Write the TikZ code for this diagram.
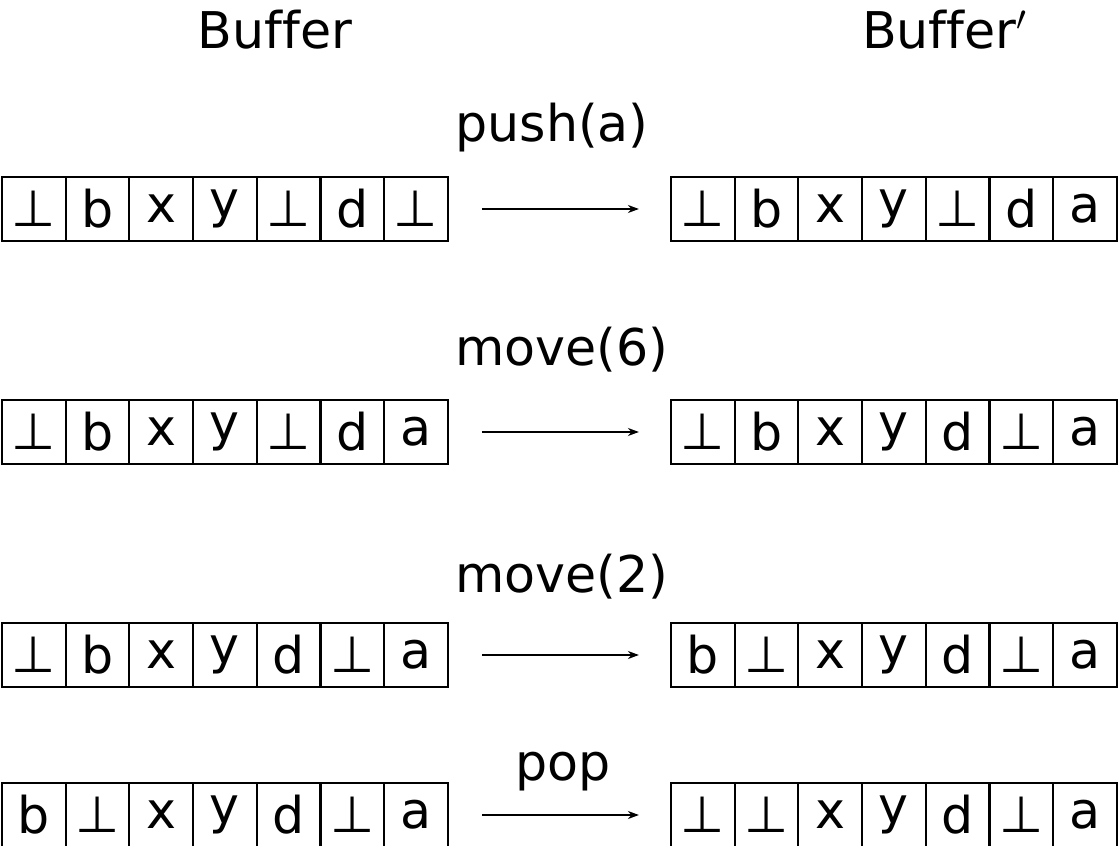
\documentclass[tikz,border=0pt]{standalone}
\usepackage{fontspec}
\setmainfont[Ligatures=NoCommon]{DejaVu Sans}
\usetikzlibrary{arrows.meta}
\newcommand{\bt}{⊥}

\begin{document}
\begin{tikzpicture}[x=0.01cm,y=-0.01cm,font=\fontsize{14.4}{17}\selectfont,cell/.style={draw,line width=0.6pt,minimum width=0.637cm,minimum height=0.64cm,inner sep=0pt},arrow/.style={-{Stealth[length=1.1mm,width=0.8mm]},line width=0.5pt,shorten <=0.33cm,shorten >=0.31cm}]
 \useasboundingbox (0,0) rectangle (1118,846);
 \node[anchor=base] (head) at (275,49) {Buffer};
 \node[anchor=base] (headp) at (945,49) {Buffer$'$};
 % push(a)
 \foreach \c [count=\i] in {\bt,b,x,y,\bt,d,\bt} \node[cell] (old1-\i) at ({33.85+63.7*(\i-1)},209) {\c};
 \foreach \c [count=\i] in {\bt,b,x,y,\bt,d,a} \node[cell] (new1-\i) at ({702.85+63.7*(\i-1)},209) {\c};
 \draw[arrow] (old1-7.east) -- (new1-1.west);
 \node[anchor=base] (op1) at (552,142) {push(a)};
 % move(6)
 \foreach \c [count=\i] in {\bt,b,x,y,\bt,d,a} \node[cell] (old2-\i) at ({33.85+63.7*(\i-1)},432) {\c};
 \foreach \c [count=\i] in {\bt,b,x,y,d,\bt,a} \node[cell] (new2-\i) at ({702.85+63.7*(\i-1)},432) {\c};
 \draw[arrow] (old2-7.east) -- (new2-1.west);
 \node[anchor=base] (op2) at (562,366) {move(6)};
 % move(2)
 \foreach \c [count=\i] in {\bt,b,x,y,d,\bt,a} \node[cell] (old3-\i) at ({33.85+63.7*(\i-1)},655) {\c};
 \foreach \c [count=\i] in {b,\bt,x,y,d,\bt,a} \node[cell] (new3-\i) at ({702.85+63.7*(\i-1)},655) {\c};
 \draw[arrow] (old3-7.east) -- (new3-1.west);
 \node[anchor=base] (op3) at (562,592) {move(2)};
 % pop
 \foreach \c [count=\i] in {b,\bt,x,y,d,\bt,a} \node[cell] (old4-\i) at ({33.85+63.7*(\i-1)},815) {\c};
 \foreach \c [count=\i] in {\bt,\bt,x,y,d,\bt,a} \node[cell] (new4-\i) at ({702.85+63.7*(\i-1)},815) {\c};
 \draw[arrow] (old4-7.east) -- (new4-1.west);
 \node[anchor=base] (op4) at (563,780) {pop};
\end{tikzpicture}
\end{document}
